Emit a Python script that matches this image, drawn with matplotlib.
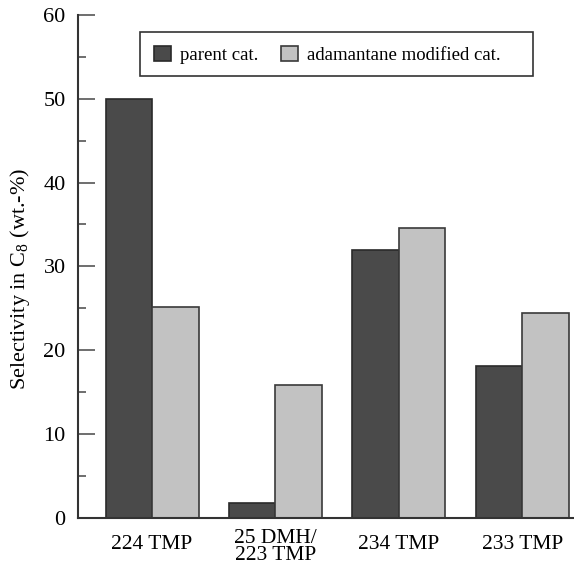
import matplotlib.pyplot as plt
from matplotlib.patches import Rectangle
from matplotlib.transforms import ScaledTranslation
import numpy as np

plt.rcParams['font.family'] = ['Liberation Serif', 'DejaVu Serif']
plt.rcParams['mathtext.fontset'] = 'custom'
plt.rcParams['mathtext.rm'] = 'Liberation Serif'

categories = ['224 TMP', '25 DMH/\n223 TMP', '234 TMP', '233 TMP']
parent = [49.9, 1.8, 32.0, 18.1]
modified = [25.1, 15.8, 34.6, 24.4]

W, H = 574, 568
fig = plt.figure(figsize=(W / 100, H / 100), dpi=100)
ax = fig.add_axes([0.136, 0.088, 0.862, 0.886])

x = np.arange(len(categories))
w = 0.377
ax.bar(x - w / 2, parent, w, color='#4a4a4a', edgecolor='#2a2a2a', linewidth=1.2, label='parent cat.')
ax.bar(x + w / 2, modified, w, color='#c2c2c2', edgecolor='#3a3a3a', linewidth=1.2, label='adamantane modified cat.')

ax.set_xlim(-0.6, 3.41)
ax.set_ylim(0, 60)
ax.set_yticks(range(0, 61, 10))
ax.set_yticks(range(5, 60, 10), minor=True)
ax.set_xticks(x)
ax.set_xticklabels(categories, fontsize=15.5, linespacing=0.9, va='top')
ax.tick_params(axis='x', length=0, pad=12)
ax.tick_params(axis='y', which='major', direction='in', length=12, width=1.2, color='#555555', labelsize=16, pad=9)
ax.tick_params(axis='y', which='minor', direction='in', length=6, width=1.2, color='#555555')

# two-line label sits a little higher than the others
for lab in ax.get_xticklabels():
    if '\n' in lab.get_text():
        lab.set_transform(lab.get_transform() + ScaledTranslation(0, 0.06, fig.dpi_scale_trans))

for s in ['top', 'right']:
    ax.spines[s].set_visible(False)
for s in ['left', 'bottom']:
    ax.spines[s].set_linewidth(1.5)
    ax.spines[s].set_color('#333333')

ax.set_ylabel('Selectivity in C$_8$ (wt.-%)', fontsize=16)
ax.yaxis.set_label_coords(-0.093, 0.475)

# legend box is wider than its contents in the original, so draw the frame separately
leg = ax.legend(loc='center left', bbox_to_anchor=(154 / W, 1 - 55 / H),
                bbox_transform=fig.transFigure, ncol=2, fontsize=13.5,
                frameon=False, handlelength=0.9, handleheight=0.9,
                handletextpad=0.5, columnspacing=1.2,
                borderpad=0, borderaxespad=0)
fig.patches.append(Rectangle((140 / W, 1 - 76 / H), 393 / W, 44 / H,
                             transform=fig.transFigure, fill=False,
                             edgecolor='#333333', linewidth=1.2))

plt.savefig('out.png', dpi=100)
